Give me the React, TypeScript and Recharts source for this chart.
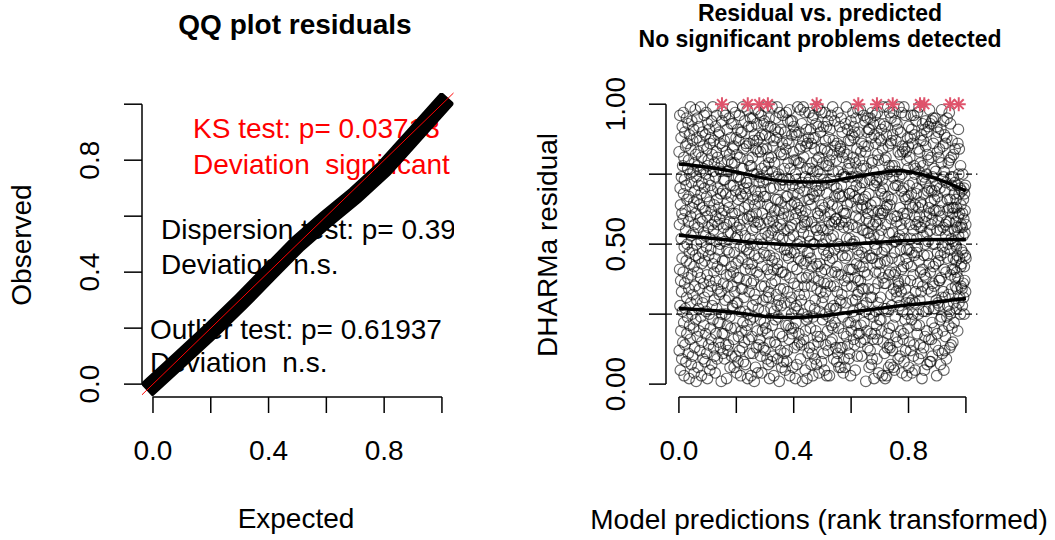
import { ComposedChart, Line, Scatter, XAxis, YAxis, ReferenceLine } from "recharts";

const FONT = '"Liberation Sans", Arial, Helvetica, sans-serif';

// ---- left panel: QQ plot of the scaled residuals
const qqExpected = [0, 0.1, 0.2, 0.3, 0.4, 0.5, 0.6, 0.7, 0.8, 0.9, 1];
const qqObserved = [0, 0.095, 0.19, 0.29, 0.395, 0.5, 0.59, 0.675, 0.77, 0.885, 1];
const qqTicks = [0, 0.2, 0.4, 0.6, 0.8, 1];
const qqTickLabels = ["0.0", "", "0.4", "", "0.8", ""];

// ---- right panel: residual vs predicted
// scaled residuals (in %), ordered by the rank of the model prediction
const residualPct = [
  83, 12, 57, 41, 96, 28, 70, 5, 64, 37, 19, 88, 52, 74, 33, 9, 61, 45, 92, 26, 78, 15, 59, 40, 97,
  68, 22, 81, 3, 49, 73, 36, 90, 14, 62, 27, 85, 55, 8, 71, 44, 95, 31, 18, 66, 86, 50, 24, 77, 38,
  93, 11, 58, 80, 34, 67, 2, 47, 89, 21, 75, 43, 16, 99, 60, 29, 84, 53, 7, 72, 39, 94, 25, 63, 48,
  10, 87, 32, 76, 54, 20, 91, 65, 42, 4, 79, 57, 13, 69, 35, 98, 46, 82, 23, 61, 1, 74, 50, 88, 30,
  66, 17, 95, 40, 78, 6, 56, 83, 27, 71, 45, 92, 19, 64, 34, 87, 12, 59, 76, 38, 99, 24, 68, 51, 3,
  81, 43, 15, 72, 58, 90, 29, 47, 63, 9, 85, 36, 77, 21, 54, 96, 31, 70, 44, 8, 62, 89, 18, 53, 75,
  26, 97, 49, 67, 11, 84, 39, 60, 2, 78, 93, 33, 56, 80, 14, 46, 73, 25, 91, 65, 37, 5, 86, 52, 20,
  71, 48, 88, 16, 62, 35, 94, 7, 57, 82, 28, 69, 43, 99, 23, 76, 55, 13, 87, 40, 64, 30, 79, 10, 58,
  45, 4, 74, 92, 37, 60, 18, 83, 51, 27, 96, 66, 9, 42, 81, 34, 70, 57, 22, 89, 48, 15, 63, 77, 32,
  90, 59, 22, 50, 86, 13, 68, 41, 76, 33, 1, 79, 61, 25, 94, 52, 18, 85, 44, 69, 11, 97, 36, 73, 56,
  62, 18, 87, 44, 9, 73, 51, 30, 96, 25, 68, 14, 83, 57, 39, 2, 76, 48, 91, 21, 65, 35, 80, 12, 54,
  14, 76, 63, 31, 95, 47, 82, 24, 58, 6, 71, 39, 88, 54, 20, 67, 93, 42, 10, 79, 35, 61, 99, 28, 84,
  27, 93, 40, 71, 16, 58, 85, 6, 47, 79, 33, 61, 20, 97, 52, 10, 69, 43, 88, 29, 74, 4, 56, 82, 38,
  53, 29, 91, 8, 66, 44, 17, 74, 87, 38, 62, 96, 12, 57, 81, 26, 49, 73, 3, 68, 90, 34, 55, 19, 77,
  90, 45, 13, 67, 34, 99, 22, 77, 59, 8, 84, 49, 31, 70, 15, 63, 94, 26, 53, 41, 7, 86, 68, 19, 72,
  37, 85, 48, 72, 21, 98, 59, 2, 43, 80, 25, 64, 92, 16, 70, 47, 33, 86, 60, 11, 78, 52, 23, 95, 41,
  50, 3, 78, 36, 92, 60, 17, 43, 81, 28, 55, 95, 11, 66, 87, 37, 24, 75, 58, 1, 89, 46, 32, 64, 98,
  69, 6, 84, 56, 30, 61, 13, 93, 75, 40, 87, 19, 50, 67, 4, 83, 58, 27, 97, 45, 14, 72, 39, 88, 65,
  16, 74, 57, 23, 83, 10, 69, 96, 35, 52, 77, 4, 42, 89, 61, 19, 50, 84, 30, 72, 13, 93, 47, 67, 26,
  22, 94, 35, 78, 12, 54, 89, 67, 20, 99, 46, 73, 31, 84, 59, 9, 76, 41, 64, 18, 92, 53, 7, 81, 33,
  79, 31, 95, 58, 2, 46, 88, 15, 70, 39, 92, 63, 27, 54, 8, 81, 36, 60, 99, 44, 21, 76, 55, 10, 85,
  58, 41, 70, 3, 87, 26, 45, 79, 62, 15, 91, 37, 66, 23, 95, 50, 14, 88, 32, 74, 56, 99, 28, 43, 9,
  41, 66, 24, 90, 53, 75, 30, 62, 1, 97, 18, 71, 49, 83, 34, 57, 12, 91, 65, 28, 82, 40, 6, 73, 59,
  86, 17, 52, 96, 40, 73, 8, 61, 34, 82, 55, 11, 77, 48, 29, 90, 63, 5, 71, 39, 84, 21, 67, 97, 46,
  8, 87, 48, 12, 67, 33, 94, 55, 79, 21, 60, 45, 86, 16, 73, 98, 52, 3, 38, 77, 56, 29, 94, 47, 20,
  31, 64, 25, 89, 57, 18, 94, 42, 71, 6, 68, 83, 20, 53, 92, 36, 80, 47, 13, 65, 27, 59, 90, 2, 75,
  73, 22, 61, 80, 28, 89, 7, 41, 64, 50, 14, 99, 35, 68, 26, 45, 79, 63, 18, 90, 32, 70, 15, 84, 51,
  79, 9, 98, 44, 62, 85, 30, 56, 14, 93, 38, 72, 49, 1, 87, 60, 25, 99, 54, 16, 81, 43, 69, 32, 57,
  35, 58, 97, 5, 74, 19, 62, 85, 44, 91, 38, 23, 77, 2, 58, 86, 24, 47, 72, 11, 66, 53, 88, 39, 97,
  47, 73, 13, 66, 28, 51, 77, 20, 91, 45, 64, 7, 86, 35, 58, 79, 42, 11, 95, 68, 3, 76, 50, 24, 88,
  96, 14, 38, 67, 50, 84, 27, 9, 88, 30, 71, 56, 19, 93, 43, 69, 7, 80, 55, 34, 99, 17, 61, 76, 42,
  15, 92, 60, 37, 81, 4, 69, 53, 26, 98, 43, 75, 17, 90, 62, 33, 56, 84, 40, 8, 71, 97, 29, 64, 50,
  23, 79, 55, 31, 92, 11, 48, 73, 36, 63, 5, 84, 60, 41, 97, 25, 87, 33, 14, 52, 78, 46, 92, 3, 68,
  72, 36, 83, 19, 55, 94, 12, 78, 47, 65, 24, 88, 58, 3, 80, 44, 91, 27, 61, 35, 15, 73, 52, 96, 21,
  57, 40, 82, 16, 64, 45, 99, 20, 76, 53, 87, 28, 9, 71, 35, 58, 48, 94, 67, 22, 40, 85, 27, 59, 13,
  59, 80, 27, 70, 8, 42, 86, 33, 63, 11, 97, 50, 39, 76, 20, 68, 6, 57, 83, 49, 92, 30, 67, 13, 85,
  84, 6, 29, 95, 39, 71, 58, 32, 13, 90, 46, 67, 81, 24, 62, 4, 75, 18, 56, 83, 9, 61, 37, 74, 49,
  6, 45, 93, 58, 74, 29, 61, 99, 17, 52, 35, 82, 64, 46, 91, 14, 77, 38, 22, 87, 56, 9, 41, 79, 68,
  11, 68, 52, 77, 22, 87, 3, 65, 94, 41, 19, 74, 50, 35, 89, 57, 30, 69, 41, 97, 26, 50, 81, 16, 92,
  88, 24, 51, 14, 67, 90, 38, 5, 79, 30, 60, 21, 95, 71, 43, 56, 84, 63, 10, 32, 74, 48, 98, 37, 18,
  66, 33, 90, 46, 59, 18, 80, 42, 27, 70, 98, 37, 15, 83, 21, 77, 63, 10, 86, 47, 72, 34, 64, 55, 28,
  42, 66, 78, 34, 96, 55, 22, 85, 40, 72, 16, 94, 49, 26, 67, 83, 1, 45, 77, 59, 29, 63, 19, 90, 54,
  39, 95, 13, 61, 85, 34, 54, 91, 68, 6, 58, 25, 91, 46, 73, 12, 95, 52, 31, 64, 18, 88, 7, 45, 79,
  97, 31, 9, 62, 45, 80, 16, 57, 93, 24, 76, 53, 2, 89, 34, 71, 50, 18, 65, 96, 40, 86, 58, 26, 73,
  48, 21, 72, 9, 43, 97, 16, 57, 82, 36, 29, 80, 62, 4, 53, 88, 40, 74, 23, 59, 93, 43, 69, 31, 61,
  23, 87, 55, 91, 19, 68, 47, 73, 3, 61, 84, 38, 70, 15, 99, 27, 62, 93, 36, 48, 11, 80, 44, 67, 2,
  92, 57, 36, 81, 27, 63, 89, 3, 49, 75, 64, 13, 44, 99, 18, 67, 26, 85, 6, 39, 54, 78, 20, 97, 14,
  64, 13, 76, 40, 86, 7, 95, 32, 59, 87, 28, 66, 45, 78, 12, 54, 89, 21, 74, 6, 97, 34, 70, 51, 39,
  5, 78, 47, 60, 94, 24, 40, 71, 17, 87, 51, 33, 76, 58, 93, 31, 60, 15, 91, 71, 37, 9, 83, 52, 36,
  35, 99, 44, 28, 53, 74, 63, 10, 82, 48, 90, 19, 57, 33, 69, 41, 97, 75, 4, 85, 55, 26, 83, 16, 61,
  70, 42, 18, 99, 8, 52, 67, 84, 37, 59, 23, 96, 34, 12, 66, 45, 83, 29, 48, 3, 80, 61, 43, 25, 88,
  77, 20, 67, 85, 31, 92, 6, 48, 71, 15, 57, 81, 29, 64, 88, 37, 12, 52, 96, 42, 68, 23, 91, 47, 4,
  30, 86, 63, 25, 72, 39, 10, 55, 96, 14, 78, 46, 89, 60, 29, 75, 5, 64, 77, 33, 57, 94, 21, 68, 47,
  52, 70, 18, 49, 97, 36, 58, 84, 25, 63, 9, 44, 76, 99, 21, 60, 83, 30, 56, 14, 79, 40, 65, 87, 33,
  11, 56, 89, 73, 2, 64, 41, 93, 35, 78, 53, 26, 87, 13, 68, 46, 74, 5, 39, 91, 58, 17, 50, 72, 94,
  85, 38, 26, 60, 75, 19, 90, 54, 7, 46, 82, 69, 34, 51, 80, 92, 27, 63, 16, 70, 43, 98, 61, 8, 55,
  40, 93, 65, 8, 57, 81, 33, 16, 69, 94, 22, 59, 10, 74, 36, 50, 95, 42, 86, 27, 62, 35, 77, 20, 66,
  69, 27, 50, 95, 14, 43, 76, 62, 88, 30, 71, 3, 92, 55, 18, 83, 47, 67, 29, 58, 90, 12, 44, 81, 37,
  28, 62, 84, 37, 70, 23, 55, 7, 46, 91, 60, 38, 79, 24, 98, 65, 31, 11, 73, 49, 19, 85, 56, 33, 74,
  94, 5, 41, 76, 47, 89, 12, 69, 31, 57, 17, 86, 53, 40, 72, 9, 58, 88, 24, 95, 66, 45, 28, 62, 50,
  55, 79, 32, 63, 21, 58, 97, 26, 80, 13, 66, 48, 25, 93, 39, 74, 14, 81, 52, 34, 71, 20, 87, 41, 63,
  61, 15, 51, 74, 45, 82, 29, 63, 22, 68, 41, 55, 72, 38, 84, 50, 35, 58, 44, 66, 27, 49, 63, 40, 56,
  34, 46, 71, 19, 86, 38, 60, 91, 53, 75, 29, 68, 84, 45, 61, 31, 70, 56, 25, 78, 42, 64, 35, 57, 48,
  43, 69, 34, 56, 28, 61, 75, 47, 53, 36, 66, 31, 59, 70, 25, 42, 68, 37, 54, 62, 46, 71, 33, 57, 45,
];
// predictions (rank) of the simulation outliers, drawn at residual = 1
const outlierX = [0.15, 0.24, 0.28, 0.31, 0.48, 0.625, 0.69, 0.745, 0.84, 0.855, 0.945, 0.975];
// quantile regression curves
const quantX = [0, 0.1, 0.2, 0.3, 0.4, 0.5, 0.6, 0.7, 0.77, 0.85, 0.93, 1];
const q25 = [0.27, 0.264, 0.255, 0.242, 0.238, 0.243, 0.258, 0.27, 0.28, 0.288, 0.298, 0.306];
const q50 = [0.532, 0.522, 0.512, 0.503, 0.497, 0.495, 0.5, 0.507, 0.512, 0.516, 0.517, 0.517];
const q75 = [0.786, 0.775, 0.758, 0.735, 0.723, 0.722, 0.738, 0.755, 0.762, 0.748, 0.722, 0.69];
const quantLevels = [0.25, 0.5, 0.75];
const resXTicks = [0, 0.2, 0.4, 0.6, 0.8, 1];
const resXLabels = ["0.0", "", "0.4", "", "0.8", ""];
const resYTicks = [0, 0.25, 0.5, 0.75, 1];
const resYLabels = ["0.00", "", "0.50", "", "1.00"];

const qqData = qqExpected.map((x, i) => ({ x, y: qqObserved[i] }));
const resPoints = residualPct.map((v, i) => ({ x: (i + 1) / residualPct.length, y: v / 100 }));
const outlierPoints = outlierX.map((x) => ({ x, y: 1 }));
const curve = (ys: number[]) => quantX.map((x, i) => ({ x, y: ys[i] }));

const txt = { fontFamily: FONT, fill: "#000" };

function xTick(ticks: number[], labels: string[]) {
  return (p: any) => {
    const label = labels[ticks.indexOf(p.payload.value)] || "";
    return (
      <text x={p.x} y={450} textAnchor="middle" dominantBaseline="central" fontSize={28} {...txt}>
        {label}
      </text>
    );
  };
}

function yTick(ticks: number[], labels: string[], lx: number) {
  return (p: any) => {
    const label = labels[ticks.indexOf(p.payload.value)] || "";
    return (
      <text x={lx} y={p.y} transform={`rotate(-90 ${lx} ${p.y})`} textAnchor="middle"
        dominantBaseline="central" fontSize={28} {...txt}>
        {label}
      </text>
    );
  };
}

const Ring = (p: any) => (
  <circle cx={p.cx} cy={p.cy} r={5.3} fill="none" stroke="#000" strokeOpacity={0.6} strokeWidth={1.15} />
);

const Star = (p: any) => {
  const s = 7;
  const d = s * 0.707;
  return (
    <g stroke="#DF536B" strokeWidth={2}>
      <line x1={p.cx - s} y1={p.cy} x2={p.cx + s} y2={p.cy} />
      <line x1={p.cx} y1={p.cy - s} x2={p.cx} y2={p.cy + s} />
      <line x1={p.cx - d} y1={p.cy - d} x2={p.cx + d} y2={p.cy + d} />
      <line x1={p.cx - d} y1={p.cy + d} x2={p.cx + d} y2={p.cy - d} />
    </g>
  );
};

const abs = (left: number, top: number): React.CSSProperties => ({ position: "absolute", left, top });
const centered = (left: number, top: number, size: number, bold = false, rotate = false): React.CSSProperties => ({
  position: "absolute", left, top, fontSize: size, fontWeight: bold ? 700 : 400, lineHeight: 1,
  whiteSpace: "pre", transform: `translate(-50%, -50%)${rotate ? " rotate(-90deg)" : ""}`,
});
const note = (left: number, top: number, color: string): React.CSSProperties => ({
  position: "absolute", left, top, fontSize: 28, lineHeight: 1, whiteSpace: "pre", color,
  transform: "translateY(-50%)",
});

export default function App() {
  return (
    <div style={{ position: "relative", width: 1055, height: 540, background: "#fff", fontFamily: FONT, color: "#000", overflow: "hidden" }}>
      <style>{`body { margin: 0; }`}</style>

      {/* test results, clipped to the QQ plot region, under the points */}
      <div style={{ position: "absolute", left: 142, top: 93, width: 312, height: 304, overflow: "hidden" }}>
        <div style={note(193 - 142, 129 - 93, "#FF0000")}>KS test: p= 0.03713</div>
        <div style={note(193 - 142, 165 - 93, "#FF0000")}>Deviation  significant</div>
        <div style={note(161 - 142, 230 - 93, "#000")}>Dispersion test: p= 0.39</div>
        <div style={note(161 - 142, 265 - 93, "#000")}>Deviation  n.s.</div>
        <div style={note(150 - 142, 330 - 93, "#000")}>Outlier test: p= 0.61937</div>
        <div style={note(150 - 142, 363 - 93, "#000")}>Deviation  n.s.</div>
      </div>

      <div style={abs(0, 0)}>
        <ComposedChart width={527} height={540} data={qqData} margin={{ top: 93, right: 73.5, bottom: 0, left: 0 }}>
          <XAxis type="number" dataKey="x" domain={[-0.038, 1.04]} allowDataOverflow ticks={qqTicks} interval={0}
            height={143} tickSize={16} axisLine={false} stroke="#000" tickLine={{ stroke: "#000", strokeWidth: 1.5 }}
            tick={xTick(qqTicks, qqTickLabels)} />
          <YAxis type="number" domain={[-0.046, 1.04]} allowDataOverflow ticks={qqTicks} interval={0}
            width={142} tickSize={18} axisLine={false} stroke="#000" tickLine={{ stroke: "#000", strokeWidth: 1.5 }}
            tick={yTick(qqTicks, qqTickLabels, 90)} />
          <ReferenceLine segment={[{ x: 0, y: -0.046 }, { x: 1, y: -0.046 }]} stroke="#000" strokeWidth={1.5} ifOverflow="visible" />
          <ReferenceLine segment={[{ x: -0.038, y: 0 }, { x: -0.038, y: 1 }]} stroke="#000" strokeWidth={1.5} ifOverflow="visible" />
          <Line dataKey="y" type="linear" stroke="#000" strokeWidth={18} strokeLinecap="square" dot={false} isAnimationActive={false} />
          <ReferenceLine segment={[{ x: -0.038, y: -0.038 }, { x: 1.04, y: 1.04 }]} stroke="#FF0000" strokeWidth={1} ifOverflow="visible" />
        </ComposedChart>
      </div>

      <div style={abs(527, 0)}>
        <ComposedChart width={528} height={540} margin={{ top: 93, right: 77.6, bottom: 0, left: 0 }}>
          <XAxis type="number" dataKey="x" domain={[-0.045, 1.04]} allowDataOverflow ticks={resXTicks} interval={0}
            height={143} tickSize={16} axisLine={false} stroke="#000" tickLine={{ stroke: "#000", strokeWidth: 1.5 }}
            tick={xTick(resXTicks, resXLabels)} />
          <YAxis type="number" dataKey="y" domain={[-0.046, 1.04]} allowDataOverflow ticks={resYTicks} interval={0}
            width={139} tickSize={17} axisLine={false} stroke="#000" tickLine={{ stroke: "#000", strokeWidth: 1.5 }}
            tick={yTick(resYTicks, resYLabels, 89)} />
          <ReferenceLine segment={[{ x: 0, y: -0.046 }, { x: 1, y: -0.046 }]} stroke="#000" strokeWidth={1.5} ifOverflow="visible" />
          <ReferenceLine segment={[{ x: -0.045, y: 0 }, { x: -0.045, y: 1 }]} stroke="#000" strokeWidth={1.5} ifOverflow="visible" />
          {quantLevels.map((q) => (
            <ReferenceLine key={q} y={q} stroke="#000" strokeWidth={1.2} strokeDasharray="6 4" />
          ))}
          <Scatter data={resPoints} dataKey="y" shape={Ring} isAnimationActive={false} />
          <Line data={curve(q25)} dataKey="y" type="monotone" stroke="#000" strokeWidth={3.5} dot={false} isAnimationActive={false} />
          <Line data={curve(q50)} dataKey="y" type="monotone" stroke="#000" strokeWidth={3.5} dot={false} isAnimationActive={false} />
          <Line data={curve(q75)} dataKey="y" type="monotone" stroke="#000" strokeWidth={3.5} dot={false} isAnimationActive={false} />
          <Scatter data={outlierPoints} dataKey="y" shape={Star} isAnimationActive={false} />
        </ComposedChart>
      </div>

      {/* titles and axis titles */}
      <div style={centered(295, 25, 28, true)}>QQ plot residuals</div>
      <div style={centered(296, 519, 28)}>Expected</div>
      <div style={centered(22, 245, 28, false, true)}>Observed</div>
      <div style={centered(820, 13, 23, true)}>Residual vs. predicted</div>
      <div style={centered(820, 39, 23, true)}>No significant problems detected</div>
      <div style={centered(819, 520, 28)}>Model predictions (rank transformed)</div>
      <div style={centered(548, 245, 28, false, true)}>DHARMa residual</div>
    </div>
  );
}
